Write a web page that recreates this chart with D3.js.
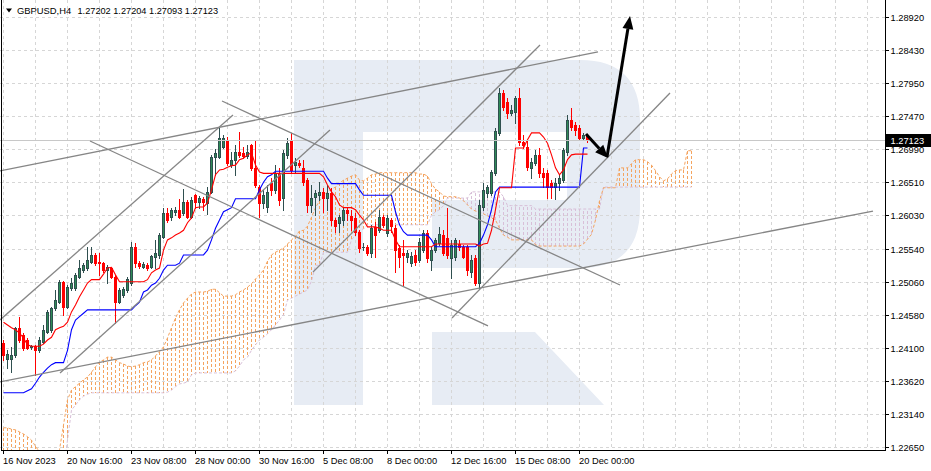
<!DOCTYPE html>
<html><head><meta charset="utf-8">
<script src="https://cdn.jsdelivr.net/npm/d3@7"></script>
<style>html,body{margin:0;padding:0;background:#fff;overflow:hidden}svg{display:block}text{font-family:"Liberation Sans",Arial,sans-serif}</style>
</head><body><svg id="chart" width="931" height="471"></svg>
<script>
// ---------------- DATA ----------------
const symbolTitle = "GBPUSD,H4";
const headerValues = "1.27202 1.27204 1.27093 1.27123";
const lastPrice = 1.27123;
const priceLabels = ["1.28920","1.28430","1.27950","1.27470","1.26990","1.26510","1.26030","1.25540","1.25060","1.24580","1.24100","1.23620","1.23140","1.22650"];
const dateLabels = ["16 Nov 2023","20 Nov 16:00","23 Nov 08:00","28 Nov 00:00","30 Nov 16:00","5 Dec 08:00","8 Dec 00:00","12 Dec 16:00","15 Dec 08:00","20 Dec 00:00"];
const dateLabelBars = [0,16,32,48,64,80,96,112,128,144];

const open = [
1.2417,1.2393,1.2393,1.2399,1.2439,1.2428,1.2421,1.2411,1.2412,1.2406,
1.2418,1.2433,1.2436,1.2468,1.2476,1.2506,1.2469,1.2497,1.2497,1.2513,
1.2523,1.2526,1.2535,1.2545,1.2535,1.2533,1.2523,1.2526,1.2513,1.2476,
1.2487,1.2494,1.2504,1.2557,1.2533,1.2527,1.2530,1.2527,1.2542,1.2545,
1.2571,1.2606,1.2600,1.2608,1.2611,1.2606,1.2622,1.2600,1.2632,1.2622,
1.2627,1.2621,1.2637,1.2688,1.2688,1.2702,1.2713,1.2676,1.2684,1.2695,
1.2694,1.2689,1.2705,1.2672,1.2644,1.2621,1.2615,1.2650,1.2640,1.2665,
1.2628,1.2691,1.2713,1.2676,1.2679,1.2672,1.2654,1.2618,1.2630,1.2632,
1.2637,1.2628,1.2635,1.2596,1.2592,1.2596,1.2611,1.2602,1.2599,1.2579,
1.2557,1.2557,1.2548,1.2586,1.2581,1.2600,1.2577,1.2596,1.2584,1.2555,
1.2548,1.2542,1.2533,1.2545,1.2538,1.2552,1.2577,1.2538,1.2552,1.2562,
1.2574,1.2570,1.2541,1.2542,1.2561,1.2557,1.2557,1.2520,1.2541,1.2504,
1.2615,1.2635,1.2635,1.2665,1.2723,1.2781,1.2768,1.2752,1.2753,1.2774,
1.2710,1.2702,1.2672,1.2679,1.2691,1.2665,1.2665,1.2650,1.2644,1.2650,
1.2654,1.2695,1.2742,1.2735,1.2730,1.2716,1.27202];
const high = [
1.2421,1.2406,1.2411,1.2440,1.2455,1.2431,1.2424,1.2414,1.2414,1.2425,
1.2443,1.2465,1.2469,1.2494,1.2509,1.2507,1.2501,1.2511,1.2519,1.2538,
1.2533,1.2557,1.2557,1.2548,1.2548,1.2535,1.2530,1.2527,1.2516,1.2497,
1.2498,1.2513,1.2564,1.2562,1.2536,1.2535,1.2533,1.2545,1.2567,1.2577,
1.2614,1.2614,1.2614,1.2615,1.2627,1.2641,1.2625,1.2630,1.2634,1.2631,
1.2630,1.2644,1.2691,1.2700,1.2732,1.2720,1.2717,1.2695,1.2705,1.2724,
1.2702,1.2705,1.2707,1.2713,1.2647,1.2640,1.2647,1.2657,1.2676,1.2672,
1.2698,1.2716,1.2723,1.2686,1.2684,1.2684,1.2657,1.2647,1.2640,1.2651,
1.2643,1.2647,1.2643,1.2599,1.2603,1.2614,1.2615,1.2611,1.2606,1.2581,
1.2562,1.2560,1.2589,1.2593,1.2611,1.2603,1.2603,1.2599,1.2589,1.2560,
1.2567,1.2552,1.2549,1.2552,1.2570,1.2581,1.2581,1.2557,1.2570,1.2586,
1.2581,1.2614,1.2567,1.2570,1.2567,1.2560,1.2560,1.2545,1.2545,1.2625,
1.2650,1.2647,1.2669,1.2730,1.2788,1.2786,1.2774,1.2764,1.2777,1.2788,
1.2720,1.2713,1.2686,1.2698,1.2701,1.2672,1.2669,1.2654,1.2657,1.2662,
1.2701,1.2749,1.2759,1.2739,1.2735,1.2723,1.27204];
const low = [
1.2392,1.2380,1.2374,1.2396,1.2418,1.2406,1.2408,1.2408,1.2370,1.2404,
1.2417,1.2431,1.2433,1.2465,1.2475,1.2458,1.2468,1.2494,1.2494,1.2511,
1.2520,1.2523,1.2533,1.2530,1.2516,1.2520,1.2504,1.2511,1.2446,1.2475,
1.2484,1.2491,1.2501,1.2527,1.2526,1.2526,1.2523,1.2526,1.2526,1.2541,
1.2570,1.2593,1.2596,1.2603,1.2599,1.2603,1.2599,1.2599,1.2614,1.2614,
1.2611,1.2605,1.2635,1.2662,1.2686,1.2701,1.2676,1.2673,1.2662,1.2688,
1.2686,1.2686,1.2669,1.2644,1.2600,1.2614,1.2608,1.2632,1.2635,1.2618,
1.2611,1.2686,1.2666,1.2666,1.2673,1.2647,1.2608,1.2608,1.2603,1.2625,
1.2608,1.2611,1.2589,1.2579,1.2579,1.2589,1.2596,1.2581,1.2574,1.2549,
1.2552,1.2545,1.2542,1.2542,1.2579,1.2586,1.2573,1.2579,1.2520,1.2527,
1.2501,1.2535,1.2529,1.2530,1.2535,1.2549,1.2535,1.2523,1.2549,1.2560,
1.2545,1.2541,1.2511,1.2538,1.2552,1.2541,1.2516,1.2513,1.2501,1.2497,
1.2611,1.2630,1.2632,1.2662,1.2720,1.2756,1.2745,1.2749,1.2737,1.2705,
1.2701,1.2669,1.2657,1.2676,1.2659,1.2644,1.2628,1.2628,1.2627,1.2640,
1.2651,1.2691,1.2727,1.2720,1.2713,1.2712,1.27093];
const close = [
1.2399,1.2401,1.2399,1.2439,1.2421,1.2409,1.2409,1.2412,1.2406,1.2421,
1.2436,1.2462,1.2468,1.2479,1.2506,1.2469,1.2498,1.2504,1.2516,1.2526,
1.2530,1.2538,1.2545,1.2533,1.2533,1.2523,1.2527,1.2513,1.2476,1.2494,
1.2495,1.2510,1.2557,1.2533,1.2529,1.2532,1.2526,1.2544,1.2548,1.2574,
1.2606,1.2596,1.2611,1.2611,1.2600,1.2622,1.2600,1.2625,1.2622,1.2628,
1.2622,1.2637,1.2688,1.2694,1.2716,1.2716,1.2679,1.2684,1.2695,1.2691,
1.2689,1.2695,1.2672,1.2647,1.2621,1.2632,1.2637,1.2640,1.2665,1.2625,
1.2694,1.2708,1.2669,1.2681,1.2676,1.2651,1.2618,1.2628,1.2635,1.2637,
1.2628,1.2635,1.2596,1.2587,1.2600,1.2611,1.2606,1.2596,1.2579,1.2555,
1.2557,1.2548,1.2584,1.2574,1.2600,1.2589,1.2599,1.2587,1.2552,1.2542,
1.2545,1.2548,1.2544,1.2535,1.2564,1.2577,1.2541,1.2552,1.2567,1.2576,
1.2548,1.2545,1.2560,1.2567,1.2557,1.2542,1.2523,1.2538,1.2504,1.2618,
1.2640,1.2644,1.2666,1.2726,1.2781,1.2761,1.2752,1.2756,1.2774,1.2710,
1.2705,1.2673,1.2681,1.2691,1.2665,1.2659,1.2644,1.2644,1.2650,1.2657,
1.2698,1.2742,1.2732,1.2727,1.2716,1.2720,1.27123];

const tenkan = [
1.2447,1.2443,1.2439,1.2436,1.2431,1.2424,1.2414,1.2412,1.2412,1.2412,
1.2415,1.2421,1.2425,1.2436,1.2439,1.2441,1.2447,1.2462,1.2472,1.2484,
1.2494,1.2504,1.2509,1.2509,1.2509,1.2517,1.2526,1.2527,1.2516,1.2506,
1.2506,1.2506,1.2506,1.2506,1.2506,1.2506,1.2509,1.2519,1.2523,1.2526,
1.2552,1.2567,1.2570,1.2574,1.2577,1.2581,1.2592,1.2599,1.2614,1.2615,
1.2615,1.2621,1.2640,1.2662,1.2669,1.2670,1.2673,1.2675,1.2676,1.2684,
1.2686,1.2691,1.2694,1.2676,1.2666,1.2664,1.2664,1.2664,1.2664,1.2664,
1.2664,1.2664,1.2664,1.2664,1.2664,1.2664,1.2664,1.2664,1.2664,1.2664,
1.2659,1.2647,1.2637,1.2630,1.2618,1.2614,1.2614,1.2614,1.2611,1.2603,
1.2596,1.2586,1.2586,1.2586,1.2584,1.2581,1.2581,1.2581,1.2567,1.2557,
1.2557,1.2557,1.2557,1.2557,1.2557,1.2557,1.2557,1.2557,1.2561,1.2561,
1.2561,1.2561,1.2561,1.2561,1.2561,1.2561,1.2561,1.2561,1.2561,1.2558,
1.2561,1.2562,1.2581,1.2611,1.2643,1.2643,1.2643,1.2643,1.2701,1.2701,
1.2701,1.2713,1.2723,1.2723,1.2723,1.2717,1.2708,1.2691,1.2672,1.2662,
1.2669,1.2684,1.2691,1.2692,1.2692,1.2692,1.2692];
const kijun = [
1.2344,1.2344,1.2344,1.2344,1.2344,1.2344,1.2347,1.2350,1.2358,1.2367,
1.2374,1.2380,1.2385,1.2388,1.2388,1.2388,1.2406,1.2436,1.2450,1.2455,
1.2460,1.2465,1.2465,1.2465,1.2465,1.2465,1.2465,1.2465,1.2465,1.2465,
1.2465,1.2465,1.2465,1.2471,1.2476,1.2491,1.2494,1.2501,1.2504,1.2511,
1.2523,1.2530,1.2530,1.2530,1.2533,1.2545,1.2545,1.2545,1.2545,1.2545,
1.2545,1.2552,1.2567,1.2584,1.2596,1.2608,1.2611,1.2614,1.2627,1.2627,
1.2627,1.2627,1.2627,1.2627,1.2640,1.2651,1.2659,1.2662,1.2667,1.2667,
1.2667,1.2667,1.2667,1.2667,1.2667,1.2667,1.2667,1.2667,1.2667,1.2667,
1.2667,1.2657,1.2649,1.2649,1.2649,1.2649,1.2649,1.2649,1.2649,1.2640,
1.2632,1.2632,1.2632,1.2632,1.2632,1.2632,1.2632,1.2632,1.2608,1.2589,
1.2579,1.2574,1.2574,1.2574,1.2574,1.2574,1.2574,1.2567,1.2557,1.2557,
1.2557,1.2557,1.2557,1.2557,1.2557,1.2557,1.2557,1.2557,1.2557,1.2562,
1.2574,1.2589,1.2611,1.2637,1.2644,1.2644,1.2644,1.2644,1.2644,1.2644,
1.2644,1.2644,1.2644,1.2644,1.2644,1.2644,1.2644,1.2644,1.2644,1.2644,
1.2644,1.2644,1.2644,1.2644,1.2644,1.2701,1.2701];
// Senkou spans (already shifted 26 bars forward, so they run 26 bars past the last candle)
const spanA = [
1.2293,1.2293,1.2291,1.2290,1.2287,1.2284,1.2280,1.2275,1.2266,1.2258,
1.2252,1.2249,1.2249,1.2252,1.2261,1.2297,1.2334,1.2348,1.2353,1.2358,
1.2363,1.2367,1.2374,1.2382,1.2389,1.2392,1.2396,1.2396,1.2392,1.2388,
1.2386,1.2383,1.2382,1.2383,1.2385,1.2388,1.2389,1.2392,1.2398,1.2404,
1.2411,1.2424,1.2439,1.2453,1.2465,1.2475,1.2482,1.2488,1.2491,1.2491,
1.2491,1.2492,1.2495,1.2495,1.2490,1.2485,1.2485,1.2485,1.2487,1.2491,
1.2494,1.2498,1.2503,1.2510,1.2516,1.2523,1.2536,1.2545,1.2549,1.2552,
1.2555,1.2561,1.2567,1.2572,1.2580,1.2581,1.2587,1.2600,1.2614,1.2624,
1.2631,1.2637,1.2641,1.2644,1.2650,1.2654,1.2657,1.2660,1.2662,1.2654,
1.2653,1.2657,1.2662,1.2663,1.2665,1.2665,1.2665,1.2665,1.2665,1.2665,
1.2665,1.2665,1.2665,1.2665,1.2663,1.2663,1.2660,1.2649,1.2641,1.2637,
1.2631,1.2630,1.2630,1.2630,1.2628,1.2624,1.2618,1.2612,1.2609,1.2608,
1.2605,1.2602,1.2599,1.2596,1.2584,1.2574,1.2571,1.2567,1.2567,1.2567,
1.2567,1.2567,1.2567,1.2560,1.2558,1.2558,1.2558,1.2558,1.2558,1.2558,
1.2558,1.2558,1.2558,1.2558,1.2558,1.2561,1.2568,1.2575,1.2596,1.2624,
1.2643,1.2643,1.2643,1.2643,1.2672,1.2672,1.2672,1.2678,1.2684,1.2684,
1.2684,1.2681,1.2676,1.2668,1.2659,1.2653,1.2656,1.2663,1.2668,1.2669,
1.2669,1.2697,1.2697];
const spanB = [
1.2224,1.2224,1.2224,1.2224,1.2224,1.2224,1.2224,1.2224,1.2224,1.2224,
1.2224,1.2224,1.2224,1.2224,1.2224,1.2231,1.2275,1.2319,1.2326,1.2334,
1.2339,1.2342,1.2344,1.2344,1.2344,1.2344,1.2344,1.2344,1.2344,1.2344,
1.2344,1.2344,1.2344,1.2344,1.2344,1.2344,1.2344,1.2344,1.2344,1.2344,
1.2344,1.2345,1.2348,1.2353,1.2357,1.2358,1.2360,1.2370,1.2373,1.2373,
1.2373,1.2373,1.2373,1.2373,1.2373,1.2373,1.2373,1.2373,1.2376,1.2383,
1.2392,1.2396,1.2406,1.2414,1.2421,1.2425,1.2430,1.2436,1.2443,1.2450,
1.2458,1.2479,1.2482,1.2485,1.2488,1.2491,1.2494,1.2507,1.2530,1.2530,
1.2549,1.2549,1.2549,1.2549,1.2549,1.2549,1.2549,1.2567,1.2574,1.2581,
1.2583,1.2589,1.2589,1.2589,1.2589,1.2589,1.2589,1.2589,1.2589,1.2589,
1.2589,1.2589,1.2589,1.2589,1.2589,1.2589,1.2589,1.2603,1.2608,1.2611,
1.2617,1.2628,1.2628,1.2628,1.2628,1.2628,1.2628,1.2637,1.2637,1.2637,
1.2637,1.2637,1.2637,1.2637,1.2637,1.2630,1.2617,1.2617,1.2617,1.2617,
1.2617,1.2617,1.2617,1.2612,1.2612,1.2612,1.2612,1.2612,1.2612,1.2612,
1.2612,1.2612,1.2612,1.2612,1.2612,1.2612,1.2612,1.2612,1.2612,1.2612,
1.2644,1.2644,1.2644,1.2644,1.2644,1.2644,1.2644,1.2644,1.2644,1.2644,
1.2644,1.2644,1.2644,1.2644,1.2644,1.2644,1.2644,1.2644,1.2644,1.2644,
1.2644,1.2644,1.2644];
// Hand-drawn objects: [barFrom, priceFrom, barTo, priceTo]
const trendLines = [
[-0.875,1.24502, 57.375,1.27491],
[14.125,1.23729, 81.625,1.27273],
[54.625,1.27695,154.125,1.25012],
[21.625,1.27112,121.125,1.24415],
[77.375,1.25202,134.125,1.28512],
[112.125,1.24531,166.625,1.27812],
[-0.875,1.26675,148.625,1.28410],
[-0.875,1.23598,217.375,1.26091]];
const arrows = [
[150.875,1.26879,156.625,1.28935],
[145.625,1.27214,151.125,1.26864]];

// ---------------- DRAW ----------------
const svg = d3.select("#chart");
const PR = 885, PB = 450;
const x = d3.scaleLinear().domain([0, 1]).range([3.5, 7.5]);
const y = d3.scaleLinear().domain([1.2265, 1.2892]).range([447, 17]);
const ry = v => Math.round(y(v));

svg.append("rect").attr("width",931).attr("height",471).attr("fill","#fff");
svg.append("defs").append("clipPath").attr("id","plot").append("rect")
  .attr("x",0).attr("y",0).attr("width",PR).attr("height",PB);
const g = svg.append("g").attr("clip-path","url(#plot)");

// watermark logo
g.append("path").attr("fill","#e7ecf4")
 .attr("d","M294,60 H580 Q640,60 640,120 V208 Q640,268 580,268 H432 V200 H567 V132 H363 V405 H294 Z M432,332 H535 L604,405 H432 Z");

// grid
const gridVals = d3.range(14).map(k => 1.2265 + k*(1.2892-1.2265)/13);
const gridG = g.append("g").attr("stroke","#d6d6d6").attr("stroke-dasharray","3,3").attr("stroke-width",1).attr("shape-rendering","crispEdges");
gridVals.forEach(v => {
  const yy = Math.round(y(v)) + 0.5;
  gridG.append("line").attr("x1",0).attr("x2",PR).attr("y1",yy).attr("y2",yy);
});
d3.range(0, 230, 8).forEach(b => {
  const xx = x(b);
  if (xx < PR) gridG.append("line").attr("x1",xx).attr("x2",xx).attr("y1",0).attr("y2",PB);
});

// cloud hatch
const cloudG = g.append("g").attr("stroke-width",1).attr("stroke-dasharray","3,2").attr("shape-rendering","crispEdges");
spanA.forEach((a, j) => {
  const b = spanB[j];
  cloudG.append("line").attr("x1",x(j)).attr("x2",x(j))
    .attr("y1",Math.round(y(a))).attr("y2",Math.round(y(b)))
    .attr("stroke", a >= b ? "#f4a460" : "#d8bfd8");
});
const lineGen = d3.line().x((d,i)=>x(i)).y(d=>y(d));
g.append("path").attr("d",lineGen(spanB)).attr("fill","none").attr("stroke","#d8bfd8").attr("stroke-dasharray","3,2");
g.append("path").attr("d",lineGen(spanA)).attr("fill","none").attr("stroke","#f4a460").attr("stroke-dasharray","3,2");

// candles
const cg = g.append("g").attr("shape-rendering","crispEdges");
open.forEach((o, i) => {
  const c = close[i], h = high[i], l = low[i];
  const bull = c >= o;
  const col = bull ? "#2f4f4f" : "#ff0000";
  const cx = x(i);
  cg.append("line").attr("x1",cx).attr("x2",cx).attr("y1",ry(h)).attr("y2",ry(l)+1).attr("stroke",col);
  const top = ry(Math.max(o,c)), bot = ry(Math.min(o,c));
  if (bot - top < 1) {
    cg.append("line").attr("x1",cx-1.5).attr("x2",cx+1.5).attr("y1",top+0.5).attr("y2",top+0.5).attr("stroke",col);
  } else {
    cg.append("rect").attr("x",cx-1).attr("y",top+0.5).attr("width",2).attr("height",bot-top)
      .attr("fill", bull ? "#2e8b57" : "#ff0000").attr("stroke",col);
  }
});

// tenkan / kijun
g.append("path").attr("d",lineGen(kijun)).attr("fill","none").attr("stroke","#0000ff").attr("stroke-width",1.1);
g.append("path").attr("d",lineGen(tenkan)).attr("fill","none").attr("stroke","#ff0000").attr("stroke-width",1.1);

// current price line
const lpY = Math.round(y(lastPrice)) + 0.5;
g.append("line").attr("x1",0).attr("x2",PR).attr("y1",lpY).attr("y2",lpY).attr("stroke","#c8c8c8");

// trend lines
trendLines.forEach(t => {
  g.append("line").attr("x1",x(t[0])).attr("y1",y(t[1])).attr("x2",x(t[2])).attr("y2",y(t[3]))
   .attr("stroke","#868686").attr("stroke-width",1.3);
});

// arrows
arrows.forEach(a => {
  const x1=x(a[0]), y1=y(a[1]), x2=x(a[2]), y2=y(a[3]);
  const ang = Math.atan2(y2-y1, x2-x1), L = 13, Wd = 5.5;
  const bx = x2 - L*Math.cos(ang), by = y2 - L*Math.sin(ang);
  g.append("line").attr("x1",x1).attr("y1",y1).attr("x2",bx).attr("y2",by).attr("stroke","#000").attr("stroke-width",3);
  const px = -Math.sin(ang)*Wd, py = Math.cos(ang)*Wd;
  g.append("path").attr("d",`M${x2},${y2}L${bx+px},${by+py}L${bx-px},${by-py}Z`).attr("fill","#000");
});

// frame
svg.append("line").attr("x1",1.5).attr("x2",1.5).attr("y1",0).attr("y2",PB+1).attr("stroke","#000");
svg.append("line").attr("x1",PR+0.5).attr("x2",PR+0.5).attr("y1",0).attr("y2",PB+1).attr("stroke","#000");
svg.append("line").attr("x1",1).attr("x2",PR+1).attr("y1",PB+0.5).attr("y2",PB+0.5).attr("stroke","#000");

// price axis
gridVals.slice().reverse().forEach((v, k) => {
  const yy = Math.round(y(v)) + 0.5;
  svg.append("line").attr("x1",PR).attr("x2",PR+4).attr("y1",yy).attr("y2",yy).attr("stroke","#000");
  svg.append("text").attr("x",890.5).attr("y",yy+3.5).attr("font-size","9.3px").attr("fill","#000").text(priceLabels[k]);
});
// date axis
dateLabelBars.forEach((b, k) => {
  const xx = x(b);
  svg.append("line").attr("x1",xx).attr("x2",xx).attr("y1",PB).attr("y2",PB+4).attr("stroke","#000");
  svg.append("text").attr("x",xx-0.5).attr("y",463.5).attr("font-size","9.3px").attr("fill","#000").text(dateLabels[k]);
});

// last price label
svg.append("rect").attr("x",886).attr("y",lpY-6.5).attr("width",45).attr("height",13).attr("fill","#000");
svg.append("text").attr("x",890.5).attr("y",lpY+3.5).attr("font-size","9.3px").attr("fill","#fff").text(lastPrice.toFixed(5));

// header
svg.append("path").attr("d","M6,8.5L12,8.5L9,12.5Z").attr("fill","#000");
svg.append("text").attr("x",17).attr("y",13.5).attr("font-size","9.4px").attr("fill","#000").text(symbolTitle);
svg.append("text").attr("x",77.5).attr("y",13.5).attr("font-size","9.2px").attr("fill","#000").text(headerValues);
</script></body></html>
